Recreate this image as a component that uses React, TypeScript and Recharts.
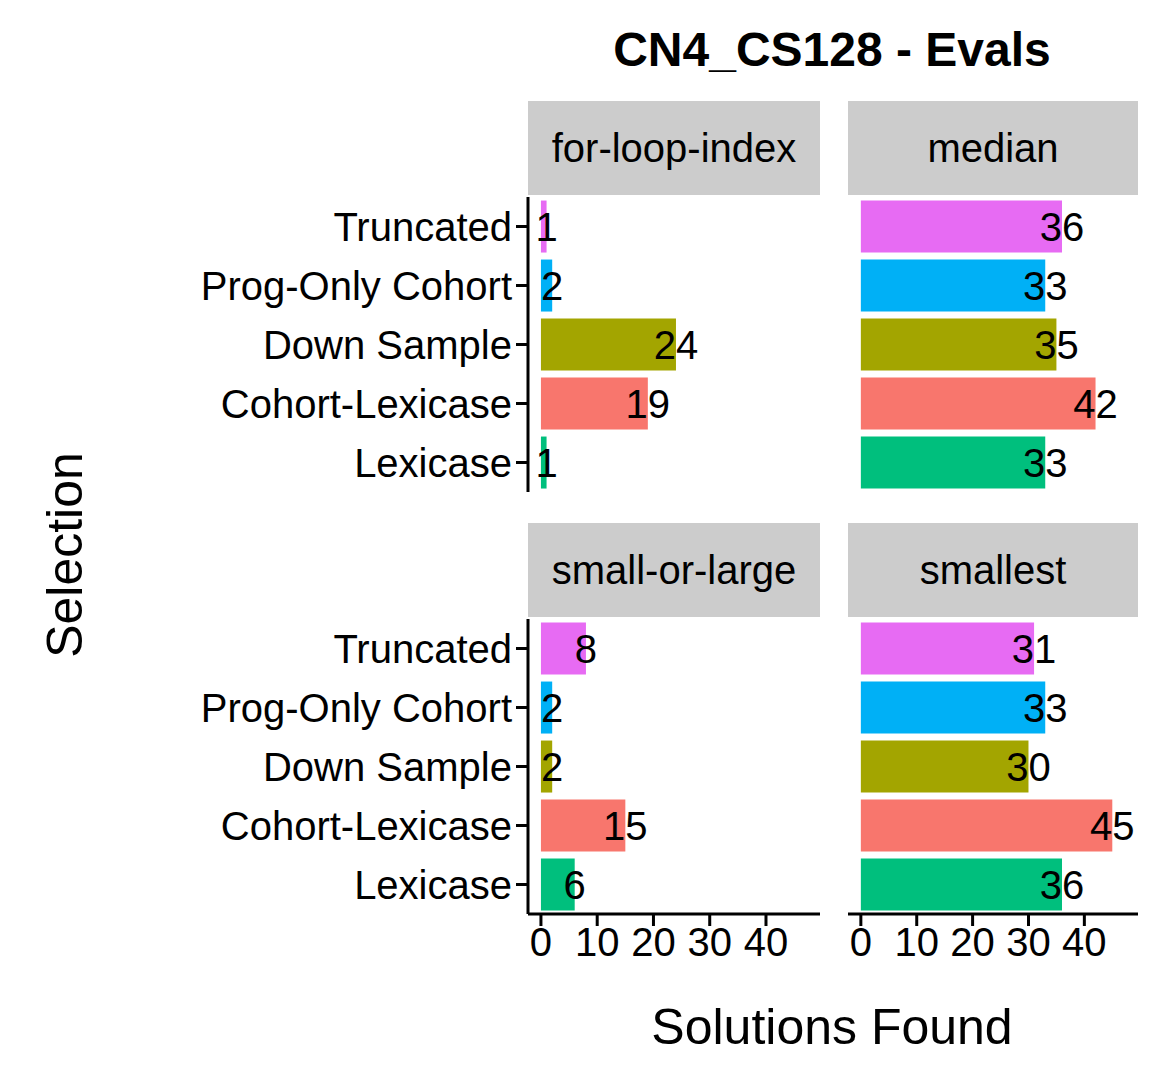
import React from 'react';
import { BarChart, Bar, XAxis, YAxis, Cell, LabelList } from 'recharts';

const categories = ['Truncated', 'Prog-Only Cohort', 'Down Sample', 'Cohort-Lexicase', 'Lexicase'];
const colors = ['#E76BF3', '#00B0F6', '#A3A500', '#F8766D', '#00BF7D'];
const forLoopIndex = [1, 2, 24, 19, 1];
const median = [36, 33, 35, 42, 33];
const smallOrLarge = [8, 2, 2, 15, 6];
const smallest = [31, 33, 30, 45, 36];
const xTicks = [0, 10, 20, 30, 40];

const FONT = 'Liberation Sans, Arial, sans-serif';
const rows = (vals: number[]) => categories.map((c, i) => ({ name: c, value: vals[i] }));

const ValueLabel = (p: any) => (
  <text x={p.x + p.width} y={p.y + p.height / 2} dy={14} textAnchor="middle" fontSize={40} fontFamily={FONT} fill="#000">
    {p.value}
  </text>
);

function Panel({ vals, left, top, showY, showX, title }: any) {
  const yw = showY ? 528 : 0;
  const plotLeft = showY ? 0 : 848;
  const plotRight = showY ? 820 : 1138;
  const h = 295 + (showX ? 90 : 0);
  return (
    <>
      <div style={{ position: 'absolute', left: showY ? 528 : 848, top: top - 96, width: showY ? 292 : 290, height: 94, background: '#CCCCCC', overflow: 'hidden', display: 'flex', alignItems: 'center', justifyContent: 'center', fontFamily: FONT, fontSize: 40, whiteSpace: 'nowrap' }}>
        {title}
      </div>
      <div style={{ position: 'absolute', left: plotLeft, top, overflow: 'hidden', width: plotRight - plotLeft, height: h }}>
        <BarChart width={plotRight - plotLeft} height={h} layout="vertical" data={rows(vals)} margin={{ top: 0, right: 0, bottom: 0, left: 0 }} barCategoryGap="6%">
          <XAxis type="number" domain={[-2.3, 49.6]} ticks={xTicks} allowDataOverflow hide={!showX} height={90}
            axisLine={{ stroke: '#000', strokeWidth: 3 }} tickLine={{ stroke: '#000', strokeWidth: 3 }} tickSize={12}
            tick={{ fontSize: 40, fill: '#000', fontFamily: FONT }} interval={0} />
          <YAxis type="category" dataKey="name" hide={!showY} width={yw}
            axisLine={{ stroke: '#000', strokeWidth: 3 }} tickLine={{ stroke: '#000', strokeWidth: 3 }} tickSize={12} tickMargin={4}
            tick={{ fontSize: 40, fill: '#000', fontFamily: FONT }} />
          <Bar dataKey="value" isAnimationActive={false}>
            {categories.map((c, i) => <Cell key={c} fill={colors[i]} />)}
            <LabelList dataKey="value" content={ValueLabel} />
          </Bar>
        </BarChart>
      </div>
    </>
  );
}

export default function App() {
  return (
    <div style={{ position: 'absolute', left: 0, top: 0, width: 1168, height: 1090, background: '#fff', fontFamily: FONT }}>
      <div style={{ position: 'absolute', left: 532, width: 600, top: 22, textAlign: 'center', fontSize: 48, fontWeight: 'bold' }}>CN4_CS128 - Evals</div>
      <Panel vals={forLoopIndex} top={197} showY title="for-loop-index" />
      <Panel vals={median} top={197} title="median" />
      <Panel vals={smallOrLarge} top={619} showY showX title="small-or-large" />
      <Panel vals={smallest} top={619} showX title="smallest" />
      <div style={{ position: 'absolute', left: 532, width: 600, top: 998, textAlign: 'center', fontSize: 50 }}>Solutions Found</div>
      <div style={{ position: 'absolute', left: 65, top: 555, transform: 'translate(-50%, -50%) rotate(-90deg)', fontSize: 50, whiteSpace: 'nowrap' }}>Selection</div>
    </div>
  );
}
